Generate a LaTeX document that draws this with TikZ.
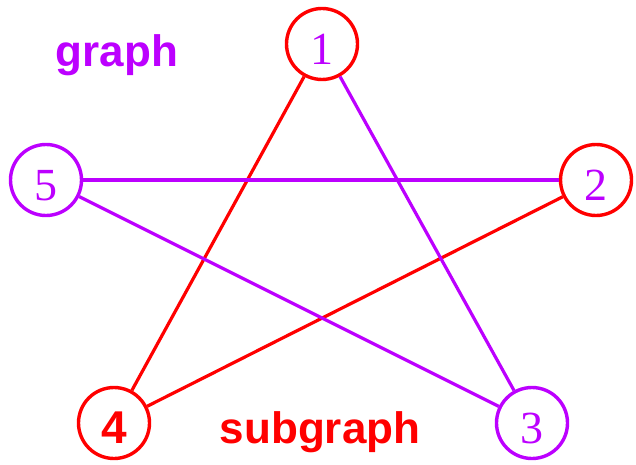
\documentclass[tikz,border=0pt]{standalone}
\usepackage{fontspec}
\setmainfont{Liberation Serif}
\setsansfont{Liberation Sans}
\definecolor{lila}{RGB}{188,0,255}
\definecolor{rot}{RGB}{255,0,0}
\tikzset{
  knoten/.style={circle,draw,line width=3.4pt,inner sep=0pt,minimum size=71pt,
    font=\fontsize{46}{46}\selectfont,text height=41pt,text depth=0pt},
  kante/.style={line width=3.2pt},
  beschriftung/.style={font=\sffamily\bfseries\fontsize{44}{44}\selectfont,anchor=base}
}
\begin{document}
\begin{tikzpicture}[x=1pt,y=1pt]
  \useasboundingbox (0,0) rectangle (636,464);

  % Knoten
  \node[knoten,draw=rot,text=lila] (n1) at (322,420) {1};
  \node[knoten,draw=rot,text=lila] (n2) at (596,284) {2};
  \node[knoten,draw=lila,text=lila] (n3) at (532,41) {3};
  \node[knoten,draw=rot,text=rot,font=\sffamily\bfseries\fontsize{46}{46}\selectfont] (n4) at (114,41) {4};
  \node[knoten,draw=lila,text=lila] (n5) at (46,284) {5};

  % Kanten
  \draw[kante,rot] (n1) -- (n4);
  \draw[kante,rot] (n4) -- (n2);
  \draw[kante,lila] (n1) -- (n3);
  \draw[kante,lila] (n5) -- (n2);
  \draw[kante,lila] (n5) -- (n3);

  % Beschriftungen
  \node[beschriftung,text=lila] (graph) at (117,397) {graph};
  \node[beschriftung,text=rot] (subgraph) at (320,21) {subgraph};
\end{tikzpicture}
\end{document}
